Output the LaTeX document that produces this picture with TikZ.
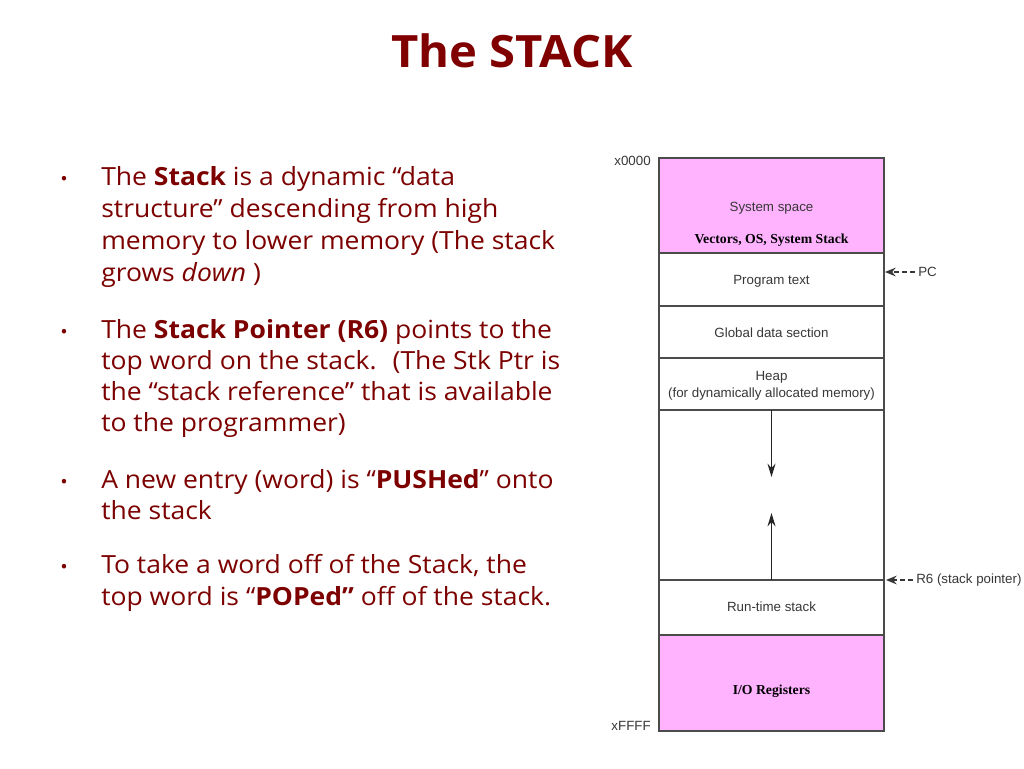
\documentclass[tikz,border=0pt]{standalone}
\usepackage{fontspec}
\setmainfont{Open Sans}[FakeStretch=1.06]
\newfontfamily\diagfont{Liberation Sans}
\newfontfamily\diagserif{Liberation Serif}
\usetikzlibrary{arrows.meta}
\definecolor{titlered}{RGB}{128,0,0}
\definecolor{textred}{RGB}{125,0,0}
\definecolor{regionpink}{RGB}{255,179,255}
\definecolor{edgegray}{RGB}{75,75,75}
\definecolor{labelgray}{RGB}{55,55,55}
\begin{document}
\begin{tikzpicture}[x=0.75pt,y=-0.75pt,
  titlestyle/.style={anchor=base,inner sep=0,text=titlered,font=\fontsize{33.4}{38}\selectfont\bfseries},
  line/.style={anchor=base west,inner sep=0,text=textred,font=\fontsize{18.75}{24}\selectfont},
  bulletdot/.style={anchor=base,inner sep=0,text=textred,font=\fontsize{14}{16}\selectfont},
  region/.style={draw=edgegray,line width=1.1pt},
  lab/.style={inner sep=0,text=labelgray,font=\diagfont\fontsize{10}{12}\selectfont},
  serlab/.style={inner sep=0,text=black,font=\diagserif\bfseries\fontsize{10.3}{12}\selectfont},
  growarrow/.style={draw=black!85,line width=1pt,-{Stealth[length=10pt,width=6pt]}},
  ptrarrow/.style={draw=labelgray,line width=0.9pt,dash pattern=on 3.5pt off 2.5pt,shorten <=2.5pt,-{Stealth[length=8pt,width=6.5pt]}}]
\useasboundingbox[fill=white] (0,0) rectangle (1024,768);

% title
\node[titlestyle] (title) at (512,67) {The STACK};

% bullets
\node[bulletdot] (b1) at (64,185) {•};
\node[line] (l1) at (101,185) {The \textbf{Stack} is a dynamic “data};
\node[line] (l2) at (101,217) {structure” descending from high};
\node[line] (l3) at (101,249) {memory to lower memory (The stack};
\node[line] (l4) at (101,281) {grows \textit{down} )};

\node[bulletdot] (b2) at (64,338) {•};
\node[line] (l5) at (101,338) {The \textbf{Stack Pointer (R6)} points to the};
\node[line] (l6) at (101,369) {top word on the stack.~ (The Stk Ptr is};
\node[line] (l7) at (101,400) {the “stack reference” that is available};
\node[line] (l8) at (101,431) {to the programmer)};

\node[bulletdot] (b3) at (64,488) {•};
\node[line] (l9) at (101,488) {A new entry (word) is “\textbf{PUSHed}” onto};
\node[line] (l10) at (101,519) {the stack};

\node[bulletdot] (b4) at (64,573) {•};
\node[line] (l11) at (101,573) {To take a word off of the Stack, the};
\node[line] (l12) at (101,605) {top word is “\textbf{POPed”} off of the stack.};

% memory map
\filldraw[region,fill=regionpink] (659,158) rectangle (884,253);
\draw[region] (659,253) rectangle (884,306);
\draw[region] (659,306) rectangle (884,358);
\draw[region] (659,358) rectangle (884,410);
\draw[region] (659,410) rectangle (884,580);
\draw[region] (659,580) rectangle (884,635);
\filldraw[region,fill=regionpink] (659,635) rectangle (884,731);

\node[lab] (sys) at (771.5,208) {System space};
\node[serlab] (vec) at (771.5,240) {Vectors, OS, System Stack};
\node[lab] (prog) at (771.5,281) {Program text};
\node[lab] (glob) at (771.5,333) {Global data section};
\node[lab] (heap) at (771.5,377) {Heap};
\node[lab] (heapnote) at (771.5,394) {(for dynamically allocated memory)};
\node[lab] (rts) at (771.5,607) {Run-time stack};
\node[serlab] (io) at (771.5,691) {I/O Registers};

\node[lab,anchor=east] (lo) at (651,161) {x0000};
\node[lab,anchor=east] (hi) at (651,726) {xFFFF};

% growth arrows
\coordinate (heapbot) at (771.5,410);
\coordinate (heaptip) at (771.5,477);
\coordinate (stacktop) at (771.5,580);
\coordinate (stacktip) at (771.5,513);
\draw[growarrow] (heapbot) -- (heaptip);
\draw[growarrow] (stacktop) -- (stacktip);

% pointers
\node[lab,anchor=west] (pc) at (918,272) {PC};
\coordinate (pcedge) at (885,272);
\draw[ptrarrow] (pc.west) -- (pcedge);
\node[lab,anchor=west] (r6) at (916,580) {R6 (stack pointer)};
\coordinate (r6edge) at (886,580);
\draw[ptrarrow] (r6.west) -- (r6edge);
\end{tikzpicture}
\end{document}
